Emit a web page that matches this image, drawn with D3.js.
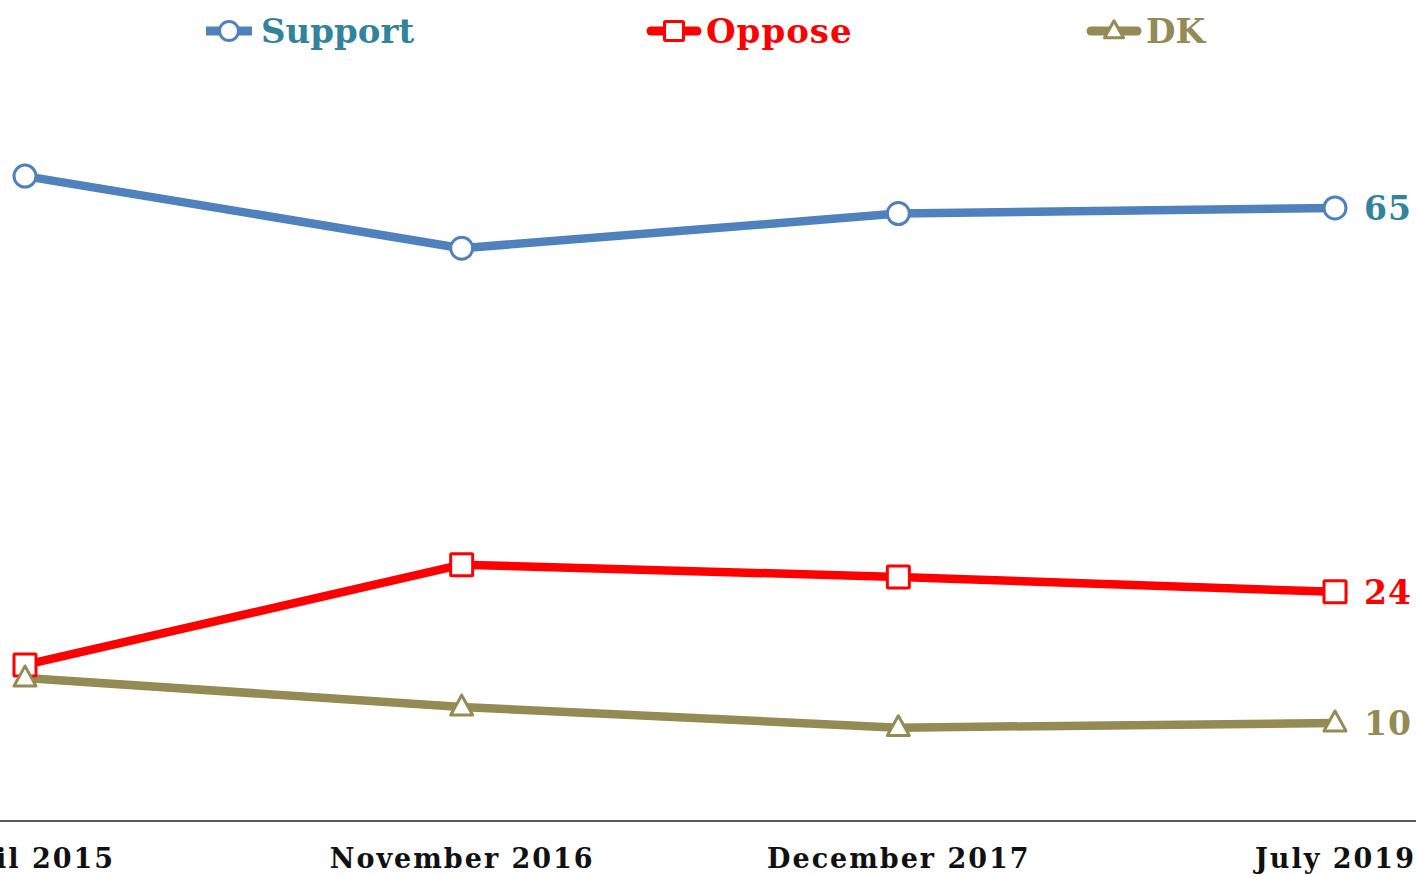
<!DOCTYPE html>
<html><head><meta charset="utf-8">
<script src="https://cdn.jsdelivr.net/npm/d3@7"></script>
<style>html,body{margin:0;padding:0;background:#fff;overflow:hidden}</style>
</head><body>
<svg id="c" width="1416" height="877"></svg>
<script>
const categories = ["April 2015", "November 2016", "December 2017", "July 2019"];
const support = [68.4, 60.7, 64.4, 65];
const oppose = [16.2, 26.9, 25.6, 24];
const dk = [14.8, 11.7, 9.5, 10];
const seriesNames = ["Support", "Oppose", "DK"];

const series = [
  {name: seriesNames[0], values: support, line: "#4F81BD", text: "#31849B", marker: "circle"},
  {name: seriesNames[1], values: oppose, line: "#FF0000", text: "#FF0000", marker: "square"},
  {name: seriesNames[2], values: dk, line: "#948A54", text: "#948A54", marker: "triangle"}
];

const svg = d3.select("#c");
const font = "'DejaVu Serif', serif";
const x = d3.scalePoint().domain(categories).range([25, 1335]);
const y = d3.scaleLinear().domain([0, 80]).range([816.6, 67.5]);

// axis
const ax = svg.append("g").attr("transform", "translate(0,821)")
  .call(d3.axisBottom(x).tickSize(0).tickPadding(28));
ax.select(".domain").remove();
ax.append("line").attr("x1", 0).attr("x2", 1416).attr("stroke", "#222").attr("stroke-width", 1.5);
ax.selectAll("text").attr("font-family", font).attr("font-weight", "bold")
  .attr("font-size", 27).attr("letter-spacing", "2px").attr("fill", "#111");

function drawMarker(g, type, cx, cy, color, size) {
  if (type === "circle") {
    g.append("circle").attr("cx", cx).attr("cy", cy).attr("r", size * 0.5)
      .attr("fill", "#fff").attr("stroke", color).attr("stroke-width", 3);
  } else if (type === "square") {
    g.append("rect").attr("x", cx - size / 2).attr("y", cy - size / 2)
      .attr("width", size).attr("height", size).attr("rx", 1)
      .attr("fill", "#fff").attr("stroke", color).attr("stroke-width", 3);
  } else {
    const h = size * 0.9, w = size * 1.0;
    g.append("path").attr("d", `M${cx},${cy - h * 0.6}L${cx + w / 2},${cy + h * 0.4}L${cx - w / 2},${cy + h * 0.4}Z`)
      .attr("fill", "#fff").attr("stroke", color).attr("stroke-width", 3).attr("stroke-linejoin", "round");
  }
}

const line = d3.line().x((d, i) => x(categories[i])).y(d => y(d));
series.forEach(s => {
  svg.append("path").attr("d", line(s.values)).attr("fill", "none")
    .attr("stroke", s.line).attr("stroke-width", 8.5).attr("stroke-linejoin", "round");
});
series.forEach(s => {
  const g = svg.append("g");
  s.values.forEach((v, i) => drawMarker(g, s.marker, x(categories[i]), y(v), s.line, 22));
  const last = s.values[s.values.length - 1];
  svg.append("text").attr("x", x(categories[categories.length - 1]) + 29).attr("y", y(last))
    .attr("dy", "0.36em").attr("font-family", font).attr("font-weight", "bold")
    .attr("font-size", 33).attr("letter-spacing", "1px").attr("fill", s.text).text(last);
});

// legend
const legendX = [203, 648, 1088];
series.forEach((s, i) => {
  const g = svg.append("g").attr("transform", `translate(${legendX[i]},31)`);
  g.append("line").attr("x1", 3).attr("x2", 49).attr("y1", 0).attr("y2", 0)
    .attr("stroke", s.line).attr("stroke-width", 9).attr("stroke-linecap", i === 0 ? "butt" : "round");
  drawMarker(g, s.marker, 26, 0, s.line, 19);
  g.append("text").attr("x", 58).attr("y", 0).attr("dy", "0.36em")
    .attr("font-family", font).attr("font-weight", "bold").attr("font-size", 34)
    .attr("letter-spacing", i === 1 ? "1px" : "0px")
    .attr("fill", s.text).text(s.name);
});
</script>
</body></html>
